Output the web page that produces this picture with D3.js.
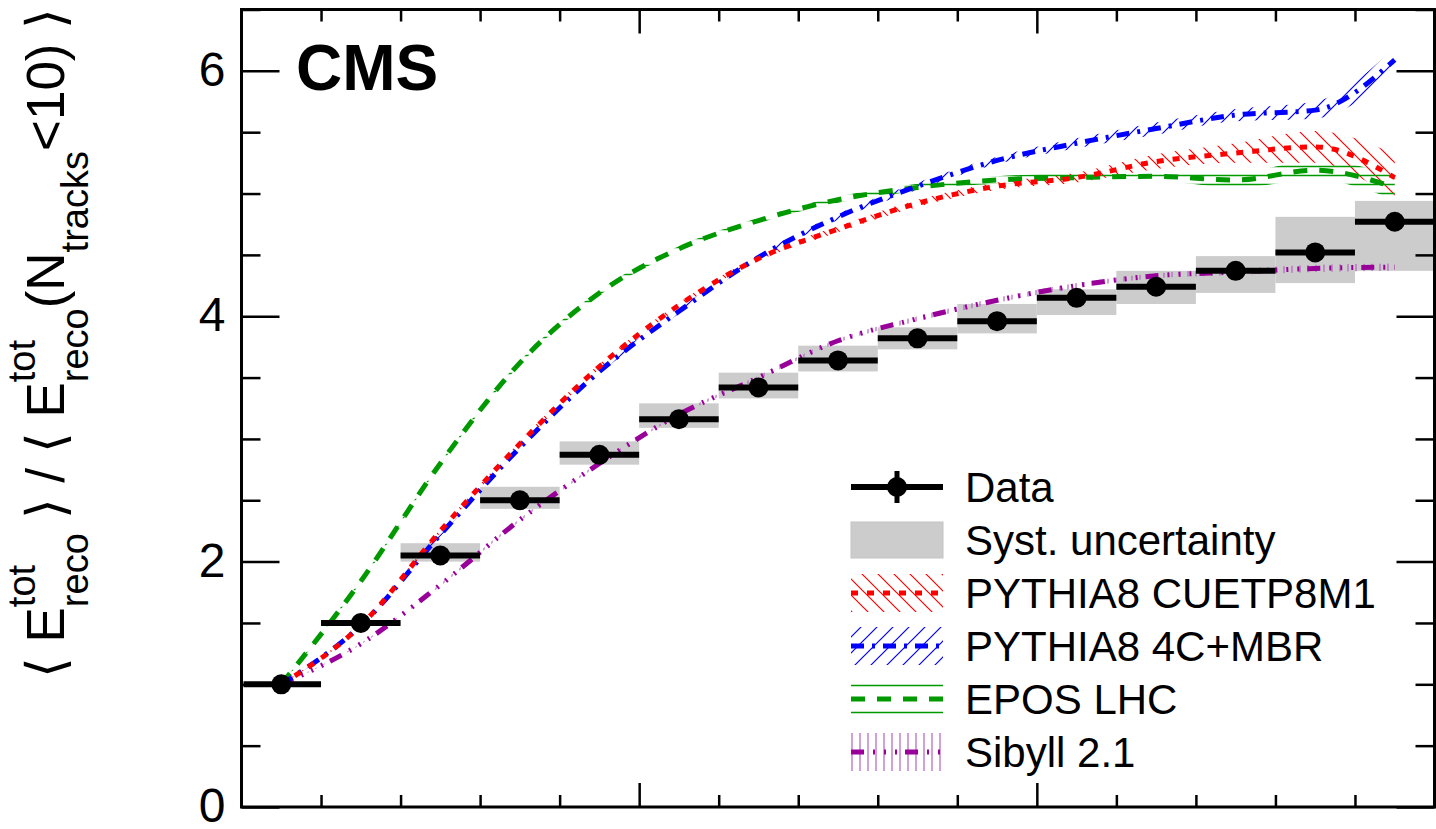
<!DOCTYPE html>
<html><head><meta charset="utf-8">
<script src="https://cdn.jsdelivr.net/npm/d3@7"></script>
<style>
html,body{margin:0;padding:0;background:#fff;}
svg{display:block;font-family:"Liberation Sans",Arial,Helvetica,sans-serif;}
</style></head>
<body>
<svg id="chart" width="1436" height="829"></svg>
<script>
// ---------------- data ----------------
const bins = [1,2,3,4,5,6,7,8,9,10,11,12,13,14,15];
const dataVals = [1.00,1.50,2.05,2.50,2.87,3.16,3.42,3.64,3.82,3.96,4.15,4.24,4.37,4.52,4.77];
const systLo   = [1.00,1.49,2.00,2.43,2.79,3.09,3.33,3.55,3.73,3.86,4.01,4.10,4.19,4.27,4.37];
const systHi   = [1.00,1.51,2.15,2.61,2.98,3.29,3.54,3.76,3.91,4.10,4.22,4.37,4.49,4.81,4.94];

const cuetp   = [1.00,1.48,2.25,2.96,3.59,4.09,4.47,4.71,4.92,5.06,5.13,5.26,5.33,5.38,5.13];
const cuetpE  = [0.00,0.01,0.015,0.02,0.02,0.02,0.02,0.025,0.03,0.03,0.04,0.06,0.08,0.13,0.19];
const mbr     = [1.00,1.48,2.22,2.93,3.55,4.04,4.48,4.81,5.06,5.27,5.41,5.53,5.64,5.68,6.09];
const mbrE    = [0.00,0.01,0.015,0.02,0.02,0.02,0.02,0.025,0.03,0.03,0.04,0.05,0.05,0.07,0.10];
const epos    = [1.00,1.84,2.80,3.62,4.19,4.55,4.78,4.95,5.05,5.11,5.13,5.14,5.11,5.19,5.05];
const eposE   = [0.00,0.01,0.01,0.015,0.02,0.02,0.02,0.025,0.03,0.03,0.04,0.04,0.06,0.08,0.10];
const sibyll  = [1.00,1.33,1.81,2.34,2.80,3.20,3.50,3.80,3.98,4.13,4.25,4.33,4.36,4.39,4.40];
const sibyllE = [0.00,0.005,0.01,0.01,0.01,0.01,0.015,0.015,0.02,0.02,0.02,0.02,0.025,0.03,0.03];

const yMajorTicks = [0,2,4,6];
const yTickLabels = ["0","2","4","6"];
const legendLabels = ["Data","Syst. uncertainty","PYTHIA8 CUETP8M1","PYTHIA8 4C+MBR","EPOS LHC","Sibyll 2.1"];

// ---------------- layout ----------------
const L = 241.5, R = 1434.5, T = 9.5, B = 807;
const svg = d3.select("#chart");
const x = d3.scaleLinear().domain([0,15]).range([L,R]);
const y = d3.scaleLinear().domain([0,6.5]).range([B,T]);

const defs = svg.append("defs");
function hatch(id, color, d, w, h, sw, op){
  const p = defs.append("pattern").attr("id",id).attr("patternUnits","userSpaceOnUse")
    .attr("width",w).attr("height",h);
  p.append("path").attr("d",d).attr("stroke",color).attr("stroke-width",sw)
    .attr("fill","none").attr("opacity",op||1);
}
hatch("hRed","#ff0000","M0,0L16,16M-2,14L2,18M14,-2L18,2",16,16,1.2);
hatch("hBlue","#0000ff","M0,16L16,0M-2,2L2,-2M14,18L18,14",16,16,1.2);
hatch("hGreen","#009900","M0,4.5L9,4.5",9,9,1.5);
hatch("hPurple","#b060c0","M4,0L4,8",8,8,1.5,0.8);

const models = [
  {vals:cuetp, errs:cuetpE, color:"#ff0000", dash:"7,9", fill:"url(#hRed)"},
  {vals:mbr, errs:mbrE, color:"#0000ff", dash:"13,8,3,8", fill:"url(#hBlue)"},
  {vals:epos, errs:eposE, color:"#009900", dash:"14,12", fill:"url(#hGreen)"},
  {vals:sibyll, errs:sibyllE, color:"#990099", dash:"13,9,2,9,2,9,2,8", fill:"url(#hPurple)"}
];

const cx = i => x(bins[i]-0.5);

// systematic boxes
svg.append("g").selectAll("rect").data(bins).join("rect")
  .attr("x",(d,i)=>x(d-1)).attr("width",(d,i)=>x(d)-x(d-1))
  .attr("y",(d,i)=>y(systHi[i])).attr("height",(d,i)=>y(systLo[i])-y(systHi[i]))
  .attr("fill","#cccccc");

// model bands
const area = d3.area().curve(d3.curveMonotoneX)
  .x((d,i)=>cx(i)).y0((d,i)=>y(d.v-d.e)).y1((d,i)=>y(d.v+d.e));
const line = d3.line().curve(d3.curveMonotoneX).x((d,i)=>cx(i)).y(d=>y(d.v));
models.forEach(m=>{
  const pts = m.vals.map((v,i)=>({v:v,e:Math.max(m.errs[i],0.004)}));
  svg.append("path").datum(pts).attr("d",area).attr("fill",m.fill).attr("stroke","none");
});
models.slice().reverse().forEach(m=>{
  const pts = m.vals.map((v,i)=>({v:v}));
  svg.append("path").datum(pts).attr("d",line).attr("fill","none")
    .attr("stroke",m.color).attr("stroke-width",5).attr("stroke-dasharray",m.dash);
});

// data
const dg = svg.append("g");
dg.selectAll("line").data(bins).join("line")
  .attr("x1",d=>Math.max(x(d-1),L+2)).attr("x2",d=>x(d))
  .attr("y1",(d,i)=>y(dataVals[i])).attr("y2",(d,i)=>y(dataVals[i]))
  .attr("stroke","#000").attr("stroke-width",6);
dg.selectAll("circle").data(bins).join("circle")
  .attr("cx",(d,i)=>cx(i)).attr("cy",(d,i)=>y(dataVals[i])).attr("r",10).attr("fill","#000");

// axes
function styleAxis(g){ g.select(".domain").remove(); g.selectAll(".tick line").attr("stroke","#000").attr("stroke-width",2.5); }
svg.append("g").attr("transform",`translate(${L},0)`)
  .call(d3.axisLeft(y).tickValues(yMajorTicks).tickFormat((d,i)=>yTickLabels[i]).tickSizeInner(-38).tickSizeOuter(0).tickPadding(16))
  .call(styleAxis)
  .call(g=>g.selectAll("text").attr("font-size",48).attr("fill","#000").attr("dy","0.3em").attr("font-family","Liberation Sans, Arial, sans-serif"));
const yMinor = d3.range(0,6.51,0.5).filter(v=>v%2!==0);
svg.append("g").attr("transform",`translate(${L},0)`)
  .call(d3.axisLeft(y).tickValues(yMinor).tickFormat("").tickSizeInner(-19).tickSizeOuter(0)).call(styleAxis);
svg.append("g").attr("transform",`translate(${R},0)`)
  .call(d3.axisRight(y).tickValues(yMajorTicks).tickFormat("").tickSizeInner(-38).tickSizeOuter(0)).call(styleAxis);
svg.append("g").attr("transform",`translate(${R},0)`)
  .call(d3.axisRight(y).tickValues(yMinor).tickFormat("").tickSizeInner(-19).tickSizeOuter(0)).call(styleAxis);
const xMajor = [5,10], xMinor = d3.range(1,15).filter(v=>v%5!==0);
svg.append("g").attr("transform",`translate(0,${B})`)
  .call(d3.axisBottom(x).tickValues(xMajor).tickFormat("").tickSizeInner(-24).tickSizeOuter(0)).call(styleAxis);
svg.append("g").attr("transform",`translate(0,${B})`)
  .call(d3.axisBottom(x).tickValues(xMinor).tickFormat("").tickSizeInner(-12).tickSizeOuter(0)).call(styleAxis);
svg.append("g").attr("transform",`translate(0,${T})`)
  .call(d3.axisTop(x).tickValues(xMajor).tickFormat("").tickSizeInner(-24).tickSizeOuter(0)).call(styleAxis);
svg.append("g").attr("transform",`translate(0,${T})`)
  .call(d3.axisTop(x).tickValues(xMinor).tickFormat("").tickSizeInner(-12).tickSizeOuter(0)).call(styleAxis);

svg.append("rect").attr("x",L).attr("y",T).attr("width",R-L).attr("height",B-T)
  .attr("fill","none").attr("stroke","#000").attr("stroke-width",3);

// CMS
svg.append("text").attr("x",296).attr("y",90).attr("font-size",64).attr("font-weight","bold").text("CMS");

// y label
const yl = svg.append("g").attr("transform","translate(64,343) rotate(-90)")
  .append("text").attr("text-anchor","middle").attr("fill","#000");
let curOff = 0;
function piece(str, kind){
  const off = kind==="sup" ? -29 : (kind==="sub" ? 24 : 0);
  const ts = yl.append("tspan").text(str).attr("dy", off-curOff)
    .attr("font-size", kind==="main" ? 53 : 38);
  curOff = off; return ts;
}
function stacked(sup, sub){
  const s = piece(sup,"sup"); const w = s.node().getComputedTextLength();
  piece(sub,"sub").attr("dx",-w);
}
piece("\u27E8 E","main"); stacked("tot","reco");
piece(" \u27E9 / \u27E8 E","main"); stacked("tot","reco");
piece("(N","main"); piece("tracks","sub"); piece("<10) \u27E9","main");

// legend
const lx0 = 851, lx1 = 943, ltx = 965;
const rowY = [487,540,593,646,699,752];
const lg = svg.append("g");
legendLabels.forEach((s,i)=>{
  lg.append("text").attr("x",ltx).attr("y",rowY[i]+15).attr("font-size",42).text(s);
});
// data entry
lg.append("line").attr("x1",lx0).attr("x2",lx1).attr("y1",rowY[0]).attr("y2",rowY[0]).attr("stroke","#000").attr("stroke-width",6);
lg.append("line").attr("x1",897).attr("x2",897).attr("y1",rowY[0]-16).attr("y2",rowY[0]+16).attr("stroke","#000").attr("stroke-width",5);
lg.append("circle").attr("cx",897).attr("cy",rowY[0]).attr("r",10).attr("fill","#000");
// syst entry
lg.append("rect").attr("x",lx0).attr("y",rowY[1]-18).attr("width",lx1-lx0).attr("height",36).attr("fill","#cccccc").attr("stroke","#c4c4c4");
// model entries
models.forEach((m,k)=>{
  const cy = rowY[k+2];
  if(k===2){
    [-13.5,13.5].forEach(o=>lg.append("line").attr("x1",lx0).attr("x2",lx1).attr("y1",cy+o).attr("y2",cy+o).attr("stroke",m.color).attr("stroke-width",1.5));
  } else {
    lg.append("rect").attr("x",lx0).attr("y",cy-19).attr("width",lx1-lx0).attr("height",38).attr("fill",m.fill);
  }
  lg.append("line").attr("x1",lx0).attr("x2",lx1).attr("y1",cy).attr("y2",cy)
    .attr("stroke",m.color).attr("stroke-width",5).attr("stroke-dasharray",m.dash);
});
</script>
</body></html>
